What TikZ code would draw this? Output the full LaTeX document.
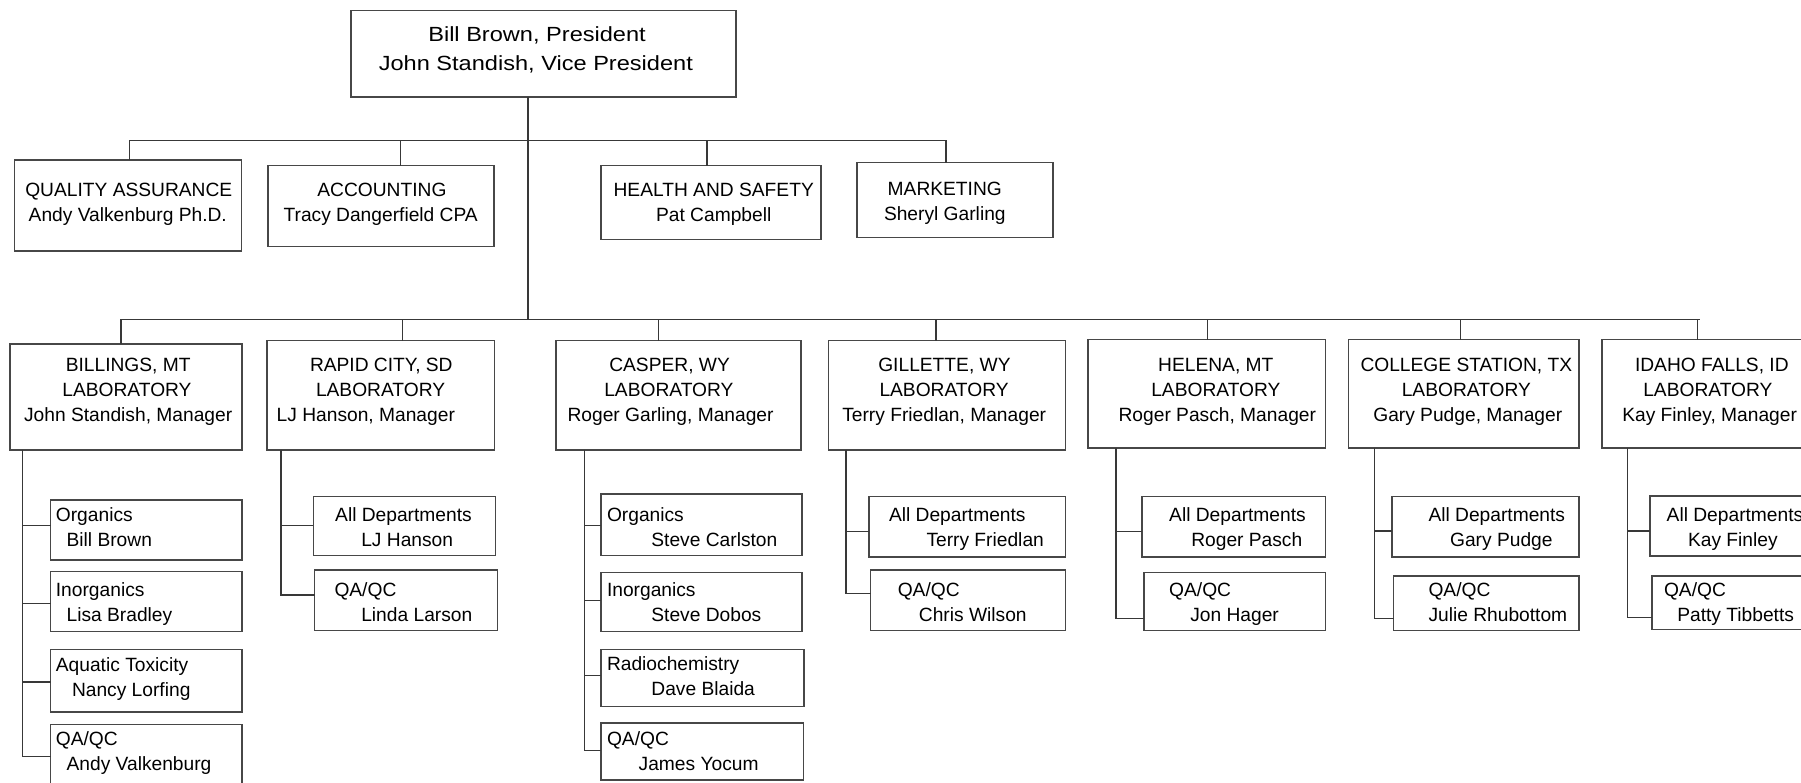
\documentclass[tikz,border=0pt]{standalone}
\usepackage{fontspec}
\setmainfont{Liberation Sans}
\newfontfamily\widesans[FakeStretch=1.15]{Liberation Sans}

% #1 width, #2 height, #3 first baseline below the top edge, #4 lines
\newcommand{\boxtext}[4]{\parbox[c][#2pt][t]{#1pt}{\vspace*{\dimexpr#3pt-20pt\relax}\raggedright\rule{0pt}{20pt}#4}}
\newcommand{\ind}[1]{\hspace*{#1pt}}

\tikzset{
  unit/.style={draw=black!72, line width=1.6pt, inner sep=0pt, outer sep=0pt,
    anchor=north west, font=\fontsize{19.2}{25}\selectfont},
  chief/.style={unit, font=\widesans\fontsize{20.5}{29.4}\selectfont},
  wire/.style={draw=black!78, line width=1.4pt},
}

\begin{document}
\begin{tikzpicture}[x=1pt,y=-1pt]
\useasboundingbox (0,0) rectangle (1801,783);
\clip (0,0) rectangle (1801,783);

% ---------- president ----------
\node[chief] (top) at (350.7,10.7) {\boxtext{385.3}{86.6}{30.6}{\ind{77.6}Bill Brown, President\\\ind{28.1}John Standish, Vice President}};

% ---------- staff departments ----------
\node[unit] (qa)  at (14.3,160.3) {\boxtext{227.3}{90.7}{36.4}{\ind{11}QUALITY ASSURANCE\\\ind{14.4}Andy Valkenburg Ph.D.}};
\node[unit] (acc) at (268,165.7)  {\boxtext{226}{81}{31}{\ind{49.4}ACCOUNTING\\\ind{15.6}Tracy Dangerfield CPA}};
\node[unit] (hs)  at (601,165.7)  {\boxtext{220}{74}{31}{\ind{12.6}HEALTH AND SAFETY\\\ind{55.1}Pat Campbell}};
\node[unit] (mkt) at (856.7,162.7) {\boxtext{196}{75}{33.3}{\ind{31}MARKETING\\\ind{27.3}Sheryl Garling}};

% ---------- laboratories ----------
\node[unit] (bil) at (10,344)      {\boxtext{232.2}{105.7}{27.7}{\ind{55.8}BILLINGS, MT\\\ind{52.4}LABORATORY\\\ind{14.1}John Standish, Manager}};
\node[unit] (rap) at (266.7,340.7) {\boxtext{227.8}{109}{31}{\ind{43.3}RAPID CITY, SD\\\ind{49.3}LABORATORY\\\ind{10}LJ Hanson, Manager}};
\node[unit] (cas) at (555.7,340.7) {\boxtext{245.3}{109}{31}{\ind{53.6}CASPER, WY\\\ind{48.6}LABORATORY\\\ind{11.9}Roger Garling, Manager}};
\node[unit] (gil) at (828.6,340.7) {\boxtext{236.8}{109}{31}{\ind{49.7}GILLETTE, WY\\\ind{50.9}LABORATORY\\\ind{13.7}Terry Friedlan, Manager}};
\node[unit] (hel) at (1087.8,339.7) {\boxtext{237.7}{108}{32}{\ind{70.4}HELENA, MT\\\ind{63.5}LABORATORY\\\ind{30.8}Roger Pasch, Manager}};
\node[unit] (col) at (1348.5,339.7) {\boxtext{230.4}{108}{32}{\ind{12}COLLEGE STATION, TX\\\ind{53.3}LABORATORY\\\ind{24.8}Gary Pudge, Manager}};
\node[unit] (ida) at (1601.7,339.7) {\boxtext{228.3}{108}{32}{\ind{33.3}IDAHO FALLS, ID\\\ind{41.6}LABORATORY\\\ind{20.6}Kay Finley, Manager}};

% ---------- Billings departments ----------
\node[unit] (bo1) at (50.5,499.7) {\boxtext{191.7}{60}{22}{\ind{5.4}Organics\\\ind{16.1}Bill Brown}};
\node[unit] (bo2) at (50.5,571.3) {\boxtext{191.7}{60}{25.4}{\ind{5.4}Inorganics\\\ind{16.1}Lisa Bradley}};
\node[unit] (bo3) at (50.5,649.3) {\boxtext{191.7}{62.7}{22.4}{\ind{5.4}Aquatic Toxicity\\\ind{21.5}Nancy Lorfing}};
\node[unit] (bo4) at (50.5,724.3) {\boxtext{191.7}{75.7}{20.7}{\ind{5.4}QA/QC\\\ind{16.1}Andy Valkenburg}};

% ---------- Rapid City departments ----------
\node[unit] (ro1) at (313.4,496.3) {\boxtext{182.2}{59}{25.4}{\ind{21.8}All Departments\\\ind{47.9}LJ Hanson}};
\node[unit] (ro2) at (314.6,569.7) {\boxtext{182.9}{60.6}{27}{\ind{19.9}QA/QC\\\ind{46.7}Linda Larson}};

% ---------- Casper departments ----------
\node[unit] (co1) at (601.2,493.7) {\boxtext{201}{61.6}{28}{\ind{5.8}Organics\\\ind{50.2}Steve Carlston}};
\node[unit] (co2) at (601.2,572.3) {\boxtext{201}{59}{24.4}{\ind{5.8}Inorganics\\\ind{50.2}Steve Dobos}};
\node[unit] (co3) at (601.2,649.3) {\boxtext{202.8}{57}{21.4}{\ind{5.8}Radiochemistry\\\ind{50.2}Dave Blaida}};
\node[unit] (co4) at (601.2,722.7) {\boxtext{202.1}{57.3}{22.3}{\ind{5.8}QA/QC\\\ind{37.5}James Yocum}};

% ---------- Gillette departments ----------
\node[unit] (go1) at (868.7,496.3) {\boxtext{196.7}{60.4}{25.4}{\ind{20.3}All Departments\\\ind{57.8}Terry Friedlan}};
\node[unit] (go2) at (870.6,569.7) {\boxtext{194.8}{60.6}{27}{\ind{27.2}QA/QC\\\ind{48.3}Chris Wilson}};

% ---------- Helena departments ----------
\node[unit] (ho1) at (1142,496.3)   {\boxtext{183.5}{60.4}{25.4}{\ind{27.2}All Departments\\\ind{49.3}Roger Pasch}};
\node[unit] (ho2) at (1143.9,572.3) {\boxtext{181.6}{58}{24.4}{\ind{25.3}QA/QC\\\ind{46.4}Jon Hager}};

% ---------- College Station departments ----------
\node[unit] (so1) at (1391.7,496.3) {\boxtext{187.2}{60.4}{25.4}{\ind{36.8}All Departments\\\ind{58.4}Gary Pudge}};
\node[unit] (so2) at (1393.6,575.7) {\boxtext{185.3}{54.6}{21}{\ind{34.9}QA/QC\\\ind{34.9}Julie Rhubottom}};

% ---------- Idaho Falls departments ----------
\node[unit] (io1) at (1650,495.7)   {\boxtext{180}{60.3}{26}{\ind{16.7}All Departments\\\ind{38}Kay Finley}};
\node[unit] (io2) at (1651.7,576)   {\boxtext{178.3}{53.3}{20.7}{\ind{12.3}QA/QC\\\ind{25.6}Patty Tibbetts}};

% ---------- upper bus: staff departments ----------
\coordinate (hub)  at (528,140.7);
\coordinate (lhub) at (528,319.3);
\coordinate (ubw)  at (129.7,140.7);
\coordinate (ube)  at (946,140.7);
\coordinate (uacc) at (400.6,140.7);
\coordinate (uhs)  at (707,140.7);
\draw[wire] (hub |- top.south) -- (lhub);
\draw[wire] (ubw |- qa.north) -- (ubw) -- (ube) -- (ube |- mkt.north);
\draw[wire] (uacc) -- (uacc |- acc.north);
\draw[wire] (uhs) -- (uhs |- hs.north);

% ---------- lower bus: laboratories ----------
\coordinate (lbil) at (121,319.3);
\coordinate (lrap) at (402.6,319.3);
\coordinate (lcas) at (658.6,319.3);
\coordinate (lgil) at (936.1,319.3);
\coordinate (lhel) at (1207.4,319.3);
\coordinate (lcol) at (1460.3,319.3);
\coordinate (lida) at (1697.7,319.3);
\coordinate (lbe)  at (1700,319.3);
\draw[wire] (lbil |- bil.north) -- (lbil) -- (lbe);
\foreach \c/\n in {lrap/rap,lcas/cas,lgil/gil,lhel/hel,lcol/col,lida/ida}
  \draw[wire] (\c) -- (\c |- \n.north);

% ---------- laboratory spines ----------
% Billings
\coordinate (sb)  at (22.2,756.7);
\coordinate (tb1) at (22.2,525.7);
\coordinate (tb2) at (22.2,603.7);
\coordinate (tb3) at (22.2,682);
\draw[wire] (sb |- bil.south) -- (sb) -- (sb -| bo4.west);
\draw[wire] (tb1) -- (tb1 -| bo1.west);
\draw[wire] (tb2) -- (tb2 -| bo2.west);
\draw[wire] (tb3) -- (tb3 -| bo3.west);
% Rapid City
\coordinate (sr)  at (280.9,595);
\coordinate (tr1) at (280.9,525.7);
\draw[wire] (sr |- rap.south) -- (sr) -- (sr -| ro2.west);
\draw[wire] (tr1) -- (tr1 -| ro1.west);
% Casper
\coordinate (sc)  at (584.4,750.3);
\coordinate (tc1) at (584.4,525.7);
\coordinate (tc2) at (584.4,600.7);
\coordinate (tc3) at (584.4,675.7);
\draw[wire] (sc |- cas.south) -- (sc) -- (sc -| co4.west);
\draw[wire] (tc1) -- (tc1 -| co1.west);
\draw[wire] (tc2) -- (tc2 -| co2.west);
\draw[wire] (tc3) -- (tc3 -| co3.west);
% Gillette
\coordinate (sg)  at (845.8,593.7);
\coordinate (tg1) at (845.8,531.3);
\draw[wire] (sg |- gil.south) -- (sg) -- (sg -| go2.west);
\draw[wire] (tg1) -- (tg1 -| go1.west);
% Helena
\coordinate (sh)  at (1115.9,618.7);
\coordinate (th1) at (1115.9,531.3);
\draw[wire] (sh |- hel.south) -- (sh) -- (sh -| ho2.west);
\draw[wire] (th1) -- (th1 -| ho1.west);
% College Station
\coordinate (ss)  at (1374.3,618.7);
\coordinate (ts1) at (1374.3,531);
\draw[wire] (ss |- col.south) -- (ss) -- (ss -| so2.west);
\draw[wire] (ts1) -- (ts1 -| so1.west);
% Idaho Falls
\coordinate (si)  at (1627.7,617.7);
\coordinate (ti1) at (1627.7,531);
\draw[wire] (si |- ida.south) -- (si) -- (si -| io2.west);
\draw[wire] (ti1) -- (ti1 -| io1.west);
\end{tikzpicture}
\end{document}
